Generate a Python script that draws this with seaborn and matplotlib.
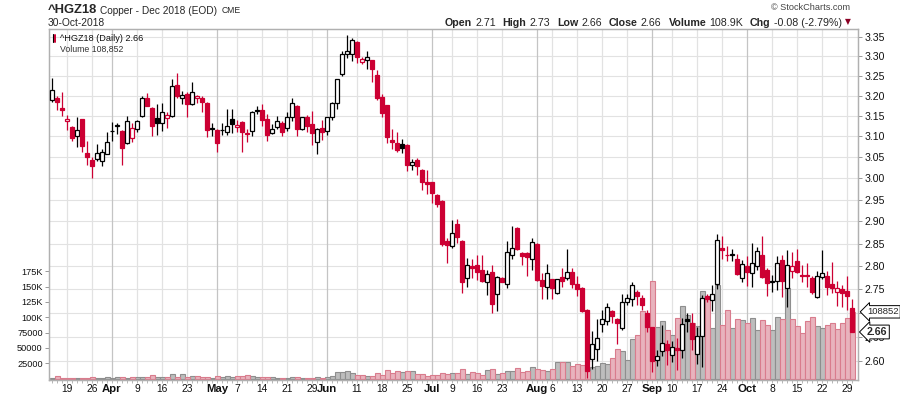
import numpy as np
import pandas as pd
import matplotlib
matplotlib.use("Agg")
import matplotlib.pyplot as plt
import matplotlib.transforms as mtransforms
from matplotlib.ticker import FixedLocator, NullLocator, NullFormatter
import seaborn as sns

# trading days of the Dec 2018 copper contract shown on the chart
start_date = "2018-03-14"
end_date = "2018-10-30"
holidays = ["2018-03-30", "2018-05-28", "2018-07-04", "2018-09-03"]

opens = [3.190, 3.194, 3.170, 3.136, 3.123, 3.101, 3.142, 3.060, 3.044, 3.045,
         3.041, 3.057, 3.112, 3.125, 3.113, 3.084, 3.096, 3.118, 3.150, 3.194,
         3.170, 3.144, 3.133, 3.144, 3.150, 3.226, 3.193, 3.204, 3.180, 3.193,
         3.195, 3.181, 3.121, 3.115, 3.114, 3.109, 3.141, 3.123, 3.135, 3.107,
         3.113, 3.163, 3.164, 3.142, 3.107, 3.122, 3.133, 3.120, 3.146, 3.173,
         3.118, 3.148, 3.129, 3.086, 3.121, 3.113, 3.148, 3.181, 3.255, 3.307,
         3.306, 3.338, 3.286, 3.290, 3.290, 3.251, 3.197, 3.176, 3.090, 3.084,
         3.080, 3.078, 3.030, 3.042, 3.020, 2.990, 2.990, 2.960, 2.947, 2.857,
         2.844, 2.895, 2.857, 2.775, 2.801, 2.804, 2.791, 2.765, 2.788, 2.740,
         2.775, 2.761, 2.826, 2.886, 2.830, 2.829, 2.817, 2.850, 2.770, 2.755,
         2.772, 2.743, 2.776, 2.775, 2.787, 2.762, 2.753, 2.707, 2.604, 2.625,
         2.677, 2.682, 2.705, 2.687, 2.668, 2.723, 2.729, 2.745, 2.731, 2.700,
         2.670, 2.602, 2.620, 2.636, 2.612, 2.627, 2.623, 2.687, 2.678, 2.615,
         2.651, 2.736, 2.728, 2.761, 2.841, 2.826, 2.824, 2.817, 2.775, 2.800,
         2.786, 2.800, 2.826, 2.791, 2.767, 2.769, 2.815, 2.753, 2.789, 2.811,
         2.781, 2.781, 2.775, 2.734, 2.777, 2.778, 2.762, 2.745, 2.751, 2.746,
         2.710]
highs = [3.245, 3.198, 3.208, 3.152, 3.125, 3.146, 3.143, 3.088, 3.051, 3.080,
         3.070, 3.110, 3.135, 3.131, 3.115, 3.150, 3.133, 3.140, 3.199, 3.206,
         3.171, 3.179, 3.181, 3.159, 3.241, 3.258, 3.212, 3.208, 3.233, 3.201,
         3.199, 3.183, 3.133, 3.117, 3.131, 3.166, 3.166, 3.139, 3.137, 3.117,
         3.162, 3.175, 3.179, 3.154, 3.129, 3.150, 3.137, 3.158, 3.195, 3.176,
         3.148, 3.152, 3.162, 3.119, 3.140, 3.148, 3.184, 3.243, 3.313, 3.355,
         3.347, 3.340, 3.297, 3.313, 3.291, 3.264, 3.204, 3.177, 3.118, 3.109,
         3.092, 3.080, 3.045, 3.048, 3.021, 3.018, 2.992, 2.962, 2.948, 2.863,
         2.903, 2.905, 2.858, 2.819, 2.817, 2.824, 2.824, 2.793, 2.802, 2.780,
         2.777, 2.857, 2.889, 2.887, 2.831, 2.831, 2.863, 2.851, 2.786, 2.806,
         2.773, 2.773, 2.797, 2.839, 2.797, 2.780, 2.756, 2.708, 2.663, 2.687,
         2.706, 2.721, 2.707, 2.689, 2.740, 2.740, 2.767, 2.749, 2.738, 2.707,
         2.671, 2.622, 2.674, 2.643, 2.641, 2.648, 2.689, 2.700, 2.700, 2.671,
         2.738, 2.740, 2.760, 2.872, 2.868, 2.846, 2.839, 2.828, 2.815, 2.822,
         2.852, 2.842, 2.868, 2.797, 2.782, 2.822, 2.824, 2.835, 2.832, 2.839,
         2.804, 2.808, 2.780, 2.789, 2.835, 2.789, 2.809, 2.769, 2.760, 2.780,
         2.730]
lows = [3.184, 3.165, 3.150, 3.115, 3.088, 3.073, 3.061, 3.032, 3.000, 3.040,
        3.028, 3.056, 3.088, 3.105, 3.032, 3.080, 3.086, 3.110, 3.148, 3.173,
        3.100, 3.103, 3.113, 3.121, 3.146, 3.195, 3.179, 3.146, 3.177, 3.182,
        3.158, 3.099, 3.100, 3.063, 3.103, 3.102, 3.107, 3.110, 3.061, 3.086,
        3.100, 3.154, 3.125, 3.088, 3.105, 3.117, 3.100, 3.113, 3.137, 3.100,
        3.115, 3.109, 3.078, 3.056, 3.091, 3.102, 3.140, 3.166, 3.249, 3.296,
        3.287, 3.283, 3.280, 3.268, 3.233, 3.189, 3.146, 3.084, 3.069, 3.063,
        3.060, 3.016, 3.020, 3.008, 2.973, 2.962, 2.943, 2.932, 2.845, 2.808,
        2.841, 2.852, 2.743, 2.756, 2.775, 2.771, 2.767, 2.738, 2.699, 2.705,
        2.765, 2.754, 2.817, 2.835, 2.802, 2.780, 2.791, 2.769, 2.729, 2.729,
        2.729, 2.740, 2.756, 2.771, 2.753, 2.735, 2.702, 2.567, 2.584, 2.601,
        2.659, 2.675, 2.679, 2.635, 2.665, 2.717, 2.715, 2.717, 2.707, 2.660,
        2.579, 2.591, 2.611, 2.592, 2.598, 2.582, 2.606, 2.661, 2.622, 2.595,
        2.588, 2.724, 2.705, 2.750, 2.817, 2.811, 2.811, 2.782, 2.767, 2.758,
        2.756, 2.793, 2.775, 2.736, 2.745, 2.749, 2.734, 2.712, 2.775, 2.786,
        2.767, 2.756, 2.740, 2.731, 2.772, 2.738, 2.743, 2.715, 2.712, 2.707,
        2.660]
closes = [3.215, 3.185, 3.164, 3.142, 3.095, 3.116, 3.076, 3.049, 3.028, 3.060,
          3.062, 3.087, 3.113, 3.126, 3.072, 3.136, 3.121, 3.136, 3.195, 3.175,
          3.125, 3.133, 3.158, 3.153, 3.223, 3.198, 3.201, 3.179, 3.210, 3.199,
          3.183, 3.115, 3.117, 3.084, 3.115, 3.125, 3.129, 3.127, 3.109, 3.106,
          3.160, 3.161, 3.140, 3.103, 3.117, 3.136, 3.110, 3.146, 3.181, 3.118,
          3.146, 3.125, 3.107, 3.117, 3.110, 3.146, 3.181, 3.241, 3.305, 3.314,
          3.342, 3.298, 3.294, 3.299, 3.268, 3.193, 3.156, 3.097, 3.086, 3.066,
          3.071, 3.032, 3.038, 3.028, 2.992, 2.987, 2.966, 2.939, 2.850, 2.848,
          2.875, 2.865, 2.767, 2.802, 2.797, 2.787, 2.769, 2.784, 2.719, 2.777,
          2.767, 2.831, 2.841, 2.839, 2.822, 2.820, 2.853, 2.771, 2.758, 2.786,
          2.753, 2.772, 2.769, 2.788, 2.762, 2.751, 2.703, 2.580, 2.636, 2.648,
          2.687, 2.713, 2.693, 2.679, 2.723, 2.731, 2.760, 2.735, 2.717, 2.670,
          2.601, 2.611, 2.637, 2.623, 2.629, 2.622, 2.677, 2.682, 2.646, 2.651,
          2.731, 2.729, 2.740, 2.859, 2.836, 2.824, 2.828, 2.784, 2.806, 2.787,
          2.808, 2.833, 2.777, 2.763, 2.769, 2.808, 2.769, 2.804, 2.800, 2.787,
          2.780, 2.779, 2.745, 2.780, 2.786, 2.756, 2.754, 2.752, 2.743, 2.736,
          2.660]
volumes = [1100, 3800, 500, 500, 500, 500, 500, 500, 2200, 500,
           500, 2200, 500, 2200, 2200, 500, 3300, 3300, 3300, 3300,
           5400, 2200, 2200, 2200, 7100, 3300, 7100, 2200, 3800, 3800,
           3300, 2200, 500, 3800, 2200, 3800, 2200, 3800, 3600, 6500,
           4300, 3300, 3300, 3300, 3300, 400, 400, 1600, 3300, 3300,
           1600, 1600, 1600, 3300, 1600, 3300, 4300, 11400, 10300, 13000,
           8700, 6500, 6500, 4300, 4300, 8700, 5400, 14700, 9800, 13000,
           11400, 13000, 13000, 8200, 8200, 5000, 6300, 6300, 8700, 7600,
           8700, 8700, 15200, 7100, 10300, 8700, 6000, 14100, 15200, 7100,
           8700, 12500, 12500, 16800, 10300, 12500, 19600, 15200, 14100, 12500,
           15200, 26600, 26600, 26600, 20600, 23400, 22300, 13000, 19600, 21200,
           25000, 23400, 33000, 47800, 45000, 30400, 64000, 71000, 110000, 95000,
           159000, 84000, 94000, 79000, 71000, 98000, 118000, 104000, 90000, 85000,
           142000, 133000, 82000, 153000, 88000, 112000, 83000, 97000, 95000, 90000,
           98000, 79000, 95000, 87000, 79000, 100000, 97000, 148000, 97000, 85000,
           74000, 94000, 100000, 85000, 82000, 87000, 91000, 81000, 91000, 98000,
           108852]

price_ticks = [2.60, 2.65, 2.70, 2.75, 2.80, 2.85, 2.90, 2.95, 3.00, 3.05,
               3.10, 3.15, 3.20, 3.25, 3.30, 3.35]
volume_ticks = [25000, 50000, 75000, 100000, 125000, 150000, 175000]
volume_labels = ["25000", "50000", "75000", "100K", "125K", "150K", "175K"]

RED = "#cc0033"
BLACK = "#000000"
PINK_FILL, PINK_EDGE = "#e8b3bd", "#d97c8d"
GRAY_FILL, GRAY_EDGE = "#bdbdbd", "#8e8e8e"
GRID = "#e2e2e2"
GRID_MONTH = "#c4c4c4"
FONT = ["Liberation Sans", "DejaVu Sans"]

sns.set_theme(style="white")
plt.rcParams["font.family"] = FONT

dates = pd.bdate_range(start_date, end_date)
dates = dates[~dates.isin(pd.to_datetime(holidays))]
idx = np.arange(len(dates))

o = np.array(opens)
h = np.array(highs)
l = np.array(lows)
c = np.array(closes)
prev_c = np.r_[c[0] - 1, c[:-1]]
up = c >= prev_c
hollow = c > o
edge_cols = np.where(up, BLACK, RED)
face_cols = np.where(hollow, "white", edge_cols)

vol_df = pd.DataFrame({"idx": idx, "volume": volumes, "up": up})

# x labels: first trading day of each month, plus week starts not too close to one
month_pos = [i for i in range(1, len(dates)) if dates[i].month != dates[i - 1].month]
week_pos = [i for i in range(1, len(dates))
            if dates[i].isocalendar()[1] != dates[i - 1].isocalendar()[1]
            and all(abs(i - m) >= 3 for m in month_pos)]
tick_pos = sorted(set(month_pos) | set(week_pos))

W, H = 900, 396
fig = plt.figure(figsize=(9, 3.96), dpi=100)
ax_vol = fig.add_axes([49 / W, 16 / H, 809 / W, 351 / H])
ax_price = ax_vol.twinx()

# volume bars (bottom layer)
for flag, fill, edge in [(True, GRAY_FILL, GRAY_EDGE), (False, PINK_FILL, PINK_EDGE)]:
    sns.barplot(data=vol_df[vol_df["up"] == flag], x="idx", y="volume",
                native_scale=True, color=fill, saturation=1, width=1.0,
                edgecolor=edge, linewidth=0.8, errorbar=None, ax=ax_vol, zorder=2)

# grid on the volume axes so it sits behind the bars
ax_vol.set_facecolor("white")
grid_tf = mtransforms.blended_transform_factory(ax_vol.transAxes, ax_price.transData)
ax_vol.hlines(price_ticks, 0, 1, transform=grid_tf, colors=GRID, lw=0.8, zorder=0)
for p in tick_pos:
    ax_vol.axvline(p, color=GRID_MONTH if p in month_pos else GRID, lw=0.9, zorder=0)

# candles
ax_price.set_yscale("log")
ax_price.vlines(idx, l, h, colors=edge_cols, lw=0.9, zorder=3)
body_low = np.minimum(o, c)
body_h = np.maximum(np.abs(c - o), 0.0012)
ax_price.bar(idx, body_h, bottom=body_low, width=0.72, color=face_cols,
             edgecolor=edge_cols, linewidth=0.9, zorder=4)

ax_vol.set_xlim(-0.6, 161.2)
ax_vol.set_ylim(-2300, 570000)
ax_price.set_ylim(2.562, 3.371)

# the 2.70 label sits under the volume tag in the original
ax_price.yaxis.set_major_locator(FixedLocator(price_ticks))
ax_price.yaxis.set_minor_locator(NullLocator())
ax_price.yaxis.set_minor_formatter(NullFormatter())
ax_price.set_yticklabels(["" if abs(t - 2.70) < 1e-9 else f"{t:.2f}" for t in price_ticks])
ax_price.tick_params(axis="y", which="major", right=True, length=3, width=0.6,
                     color="#888888", pad=2, labelsize=7.6, labelcolor="#111111")

ax_vol.set_yticks(volume_ticks, volume_labels)
ax_vol.tick_params(axis="y", left=True, length=3, width=0.6, color="#888888",
                   pad=1.5, labelsize=6.6, labelcolor="#111111")

ax_vol.set_xticks(tick_pos)
ax_vol.set_xticklabels([dates[p].strftime("%b") if p in month_pos else str(dates[p].day)
                        for p in tick_pos])
for p, lab in zip(tick_pos, ax_vol.get_xticklabels()):
    if p in month_pos:
        lab.set_fontweight("bold")
        lab.set_fontsize(8.2)
    else:
        lab.set_fontsize(7.4)
ax_vol.set_xticks(idx, minor=True)
ax_vol.tick_params(axis="x", which="both", bottom=True, length=2, width=0.5,
                   color="#999999", pad=0.8, labelcolor="#111111")
ax_vol.set_xlabel("")
ax_vol.set_ylabel("")
ax_price.set_ylabel("")

for ax in (ax_vol, ax_price):
    for s in ax.spines.values():
        s.set_color("#b0b0b0")
        s.set_linewidth(0.9)

# legend lines inside the plot
ax_price.text(0.013, 0.987, "^HGZ18 (Daily) 2.66", transform=ax_price.transAxes,
              fontsize=6.6, color="#111111", va="top", ha="left", zorder=6)
ax_price.text(0.013, 0.956, "Volume 108,852", transform=ax_price.transAxes,
              fontsize=6.3, color="#333333", va="top", ha="left", zorder=6)
ax_price.plot([0.0045, 0.0045], [0.962, 0.985], transform=ax_price.transAxes,
              color="black", lw=0.8, clip_on=False)
ax_price.plot([0.0075, 0.0075], [0.962, 0.982], transform=ax_price.transAxes,
              color=RED, lw=1.4, clip_on=False)
ax_price.bar([0.004, 0.0065, 0.009], [0.012, 0.018, 0.014], bottom=0.930, width=0.0018,
             transform=ax_price.transAxes, color="#666666", clip_on=False)

# value tags on the right edge
tag_price = mtransforms.blended_transform_factory(ax_price.transAxes, ax_price.transData)
tag_vol = mtransforms.blended_transform_factory(ax_price.transAxes, ax_vol.transData)
ax_price.text(1.011, volumes[-1], f"{volumes[-1]}", transform=tag_vol, fontsize=6.8,
              va="center", ha="left", zorder=10, clip_on=False,
              bbox=dict(boxstyle="larrow,pad=0.18", fc="white", ec="black", lw=0.7))
ax_price.text(1.011, closes[-1], f"{closes[-1]:.2f}", transform=tag_price, fontsize=7.6,
              fontweight="bold", va="center", ha="left", zorder=10, clip_on=False,
              bbox=dict(boxstyle="larrow,pad=0.18", fc="white", ec="black", lw=0.7))

# header
fig.text(48 / W, 1 - 10 / H, "^HGZ18", fontsize=9.4, fontweight="bold", va="center", ha="left")
fig.text(100 / W, 1 - 10.5 / H, "Copper - Dec 2018 (EOD)", fontsize=7.3, va="center", ha="left")
fig.text(222 / W, 1 - 10.5 / H, "CME", fontsize=6.2, va="center", ha="left")
fig.text(48 / W, 1 - 23 / H, "30-Oct-2018", fontsize=7.4, va="center", ha="left")
fig.text(850 / W, 1 - 7.5 / H, "\u00a9 StockCharts.com", fontsize=6.6, color="#444444",
         va="center", ha="right")

renderer = fig.canvas.get_renderer()
pieces = [("Open", True), ("2.71", False), ("High", True), ("2.73", False),
          ("Low", True), ("2.66", False), ("Close", True), ("2.66", False),
          ("Volume", True), ("108.9K", False), ("Chg", True), ("-0.08 (-2.79%)", False)]
x_px = 445
for k, (txt, bold) in enumerate(pieces):
    t = fig.text(x_px / W, 1 - 22.5 / H, txt, fontsize=7.7,
                 fontweight="bold" if bold else "normal", va="center", ha="left")
    x_px += t.get_window_extent(renderer).width + (3 if bold else 7)
fig.text(x_px / W - 0.004, 1 - 22 / H, "\u25bc", fontsize=5.5, color="#8b0024",
         family="DejaVu Sans", va="center", ha="left")

fig.savefig("out.png", dpi=100, facecolor="white")
